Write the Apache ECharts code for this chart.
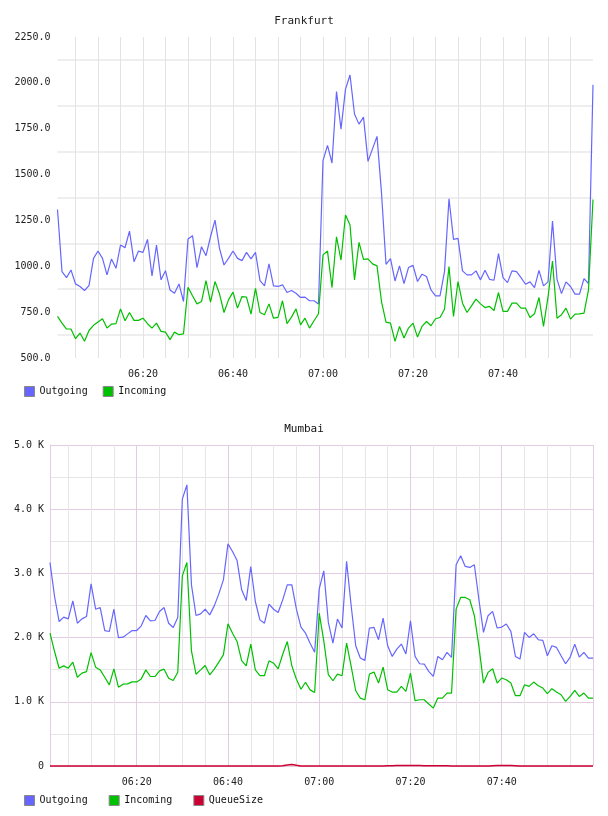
<!DOCTYPE html>
<html>
<head>
<meta charset="utf-8">
<script src="https://cdn.jsdelivr.net/npm/echarts@6/dist/echarts.min.js"></script>
<style>
html,body{margin:0;padding:0;background:#fff;}
#c{width:608px;height:816px;}
</style>
</head>
<body>
<div id="c"></div>
<script>
// Time categories: one point per minute, 06:01 .. 08:00
var times = [];
for (var m = 6 * 60 + 1; m <= 8 * 60; m++) {
  var hh = Math.floor(m / 60), mm = m % 60;
  times.push((hh < 10 ? '0' : '') + hh + ':' + (mm < 10 ? '0' : '') + mm);
}

var frankfurtOutgoing = [
  1310, 971, 938, 980, 904, 890, 868, 895, 1043, 1083,
  1043, 953, 1040, 989, 1116, 1101, 1192, 1025, 1083, 1076,
  1147, 947, 1116, 926, 976, 871, 853, 904, 808, 1149,
  1167, 993, 1107, 1058, 1161, 1252, 1098, 1007, 1043, 1083,
  1043, 1031, 1076, 1040, 1076, 922, 893, 1013, 893, 890,
  899, 857, 868, 853, 830, 832, 812, 812, 795, 1576,
  1659, 1563, 1953, 1748, 1966, 2043, 1830, 1775, 1813, 1572,
  1640, 1708, 1400, 1011, 1042, 920, 1002, 906, 993, 1005,
  917, 957, 944, 871, 839, 839, 971, 1368, 1147, 1152,
  975, 953, 953, 975, 926, 978, 929, 924, 1069, 938,
  911, 975, 971, 938, 902, 915, 884, 978, 893, 915,
  1246, 929, 851, 915, 890, 848, 848, 933, 906, 1989
];
var frankfurtIncoming = [
  727, 690, 658, 658, 605, 636, 591, 650, 678, 696,
  714, 663, 685, 687, 768, 703, 748, 705, 705, 717,
  687, 663, 690, 645, 641, 600, 641, 627, 632, 886,
  839, 795, 808, 922, 804, 917, 850, 748, 817, 859,
  772, 835, 832, 739, 880, 748, 736, 795, 717, 721,
  812, 687, 723, 768, 681, 717, 663, 703, 741, 1062,
  1083, 884, 1161, 1034, 1279, 1225, 926, 1130, 1038, 1040,
  1013, 1002, 808, 696, 690, 591, 672, 609, 663, 690,
  614, 672, 699, 676, 714, 721, 766, 998, 726, 917,
  799, 748, 784, 821, 795, 775, 781, 759, 857, 754,
  754, 799, 799, 772, 772, 721, 741, 830, 672, 832,
  1029, 717, 736, 772, 712, 739, 741, 745, 871, 1364
];
var mumbaiOutgoing = [
  3169, 2640, 2250, 2318, 2292, 2572, 2224, 2292, 2328, 2837,
  2442, 2468, 2110, 2095, 2442, 2001, 2006, 2058, 2110, 2110,
  2183, 2344, 2261, 2266, 2406, 2468, 2224, 2157, 2313, 4156,
  4379, 2821, 2344, 2370, 2442, 2354, 2494, 2681, 2899, 3460,
  3341, 3200, 2744, 2577, 3107, 2562, 2276, 2224, 2520, 2442,
  2390, 2588, 2821, 2821, 2442, 2162, 2069, 1913, 1773, 2760,
  3040, 2237, 1915, 2289, 2149, 3187, 2496, 1873, 1681, 1645,
  2149, 2159, 1967, 2304, 1873, 1707, 1821, 1899, 1744, 2263,
  1707, 1593, 1588, 1474, 1396, 1707, 1655, 1770, 1692, 3135,
  3275, 3109, 3093, 3135, 2590, 2081, 2341, 2408, 2149, 2164,
  2211, 2097, 1707, 1666, 2081, 2003, 2060, 1967, 1956, 1718,
  1873, 1847, 1718, 1593, 1697, 1899, 1697, 1770, 1681, 1681
];
var mumbaiIncoming = [
  2069, 1783, 1523, 1560, 1523, 1617, 1383, 1446, 1471, 1767,
  1539, 1497, 1383, 1264, 1513, 1227, 1274, 1279, 1310, 1310,
  1357, 1497, 1394, 1394, 1482, 1508, 1368, 1331, 1461, 2962,
  3169, 1793, 1430, 1497, 1565, 1420, 1508, 1617, 1731, 2214,
  2069, 1939, 1643, 1560, 1897, 1497, 1409, 1409, 1638, 1601,
  1513, 1741, 1939, 1560, 1352, 1196, 1305, 1186, 1144, 2380,
  1950, 1422, 1328, 1432, 1406, 1915, 1551, 1172, 1058, 1032,
  1432, 1463, 1292, 1541, 1188, 1152, 1152, 1240, 1162, 1448,
  1017, 1032, 1032, 965, 902, 1058, 1058, 1136, 1136, 2444,
  2626, 2626, 2590, 2341, 1863, 1292, 1458, 1515, 1292, 1370,
  1344, 1292, 1095, 1095, 1266, 1240, 1307, 1250, 1214, 1126,
  1204, 1152, 1110, 1006, 1084, 1178, 1084, 1136, 1058, 1058
];
var mumbaiQueueSize = [
  0, 0, 0, 0, 0, 0, 0, 0, 0, 0,
  0, 0, 0, 0, 0, 0, 0, 0, 0, 0,
  0, 0, 0, 0, 0, 0, 0, 0, 0, 0,
  0, 0, 0, 0, 0, 0, 0, 0, 0, 0,
  0, 0, 0, 0, 0, 0, 0, 0, 0, 0,
  0, 5, 15, 25, 10, 0, 0, 0, 0, 0,
  0, 0, 0, 0, 0, 0, 0, 0, 0, 0,
  0, 0, 0, 0, 3, 5, 6, 6, 6, 6,
  6, 6, 5, 5, 5, 5, 4, 3, 0, 0,
  0, 0, 0, 0, 0, 0, 0, 4, 7, 8,
  8, 6, 3, 0, 0, 0, 0, 0, 0, 0,
  0, 0, 0, 0, 0, 0, 0, 0, 0, 0
];

var yTicksFrankfurt = { min: 500, max: 2250, step: 250 };
var yTicksMumbai = { min: 0, max: 5000, step: 1000 };

var COL_OUT = '#6666ff', COL_IN = '#00c000', COL_Q = '#cc0033';
var MONO = '"DejaVu Sans Mono", monospace';
var PINK = '#e2cce2', GRAY = '#e6e6e6';

function minuteOf(v) { return parseInt(v.slice(3), 10); }
function is20(idx, v) { return minuteOf(v) % 20 === 0; }

var chart = echarts.init(document.getElementById('c'), null, { renderer: 'canvas' });

var option = {
  animation: false,
  backgroundColor: '#ffffff',
  title: [
    { text: 'Frankfurt', left: 'center', top: 11,
      textStyle: { fontFamily: MONO, fontSize: 11, fontWeight: 'normal', color: '#222' } },
    { text: 'Mumbai', left: 'center', top: 419,
      textStyle: { fontFamily: MONO, fontSize: 11, fontWeight: 'normal', color: '#111' } }
  ],
  legend: [
    { data: ['Outgoing', 'Incoming'], left: 24, top: 386, icon: 'rect', padding: 0,
      itemWidth: 10, itemHeight: 10, itemGap: 15, selectedMode: false,
      itemStyle: { borderColor: '#888', borderWidth: 1 },
      textStyle: { fontFamily: MONO, fontSize: 10, color: '#111' } },
    { data: ['Outgoing', 'Incoming', 'QueueSize'], left: 24, top: 795, icon: 'rect', padding: 0,
      itemWidth: 10, itemHeight: 10, itemGap: 21, selectedMode: false,
      itemStyle: { borderColor: '#888', borderWidth: 1 },
      textStyle: { fontFamily: MONO, fontSize: 10, color: '#111' } }
  ],
  grid: [
    { left: 57.5, top: 37, width: 535.5, height: 321, containLabel: false },
    { left: 50, top: 445, width: 543, height: 321, containLabel: false }
  ],
  xAxis: [
    { type: 'category', gridIndex: 0, data: times, boundaryGap: false,
      axisLine: { show: false }, axisTick: { show: false },
      axisLabel: { interval: function (i, v) { return is20(i, v) && i !== times.length - 1; },
        fontFamily: MONO, fontSize: 10, color: '#222', margin: 11 },
      splitLine: { show: true, interval: function (i, v) { return minuteOf(v) % 5 === 0 && i !== times.length - 1; },
        lineStyle: { color: '#e3e3e3', width: 1 } } },
    { type: 'category', gridIndex: 1, data: times, boundaryGap: false,
      axisLine: { show: false }, axisTick: { show: false },
      axisLabel: { interval: function (i, v) { return is20(i, v) && i !== times.length - 1; },
        fontFamily: MONO, fontSize: 10, color: '#222', margin: 11 },
      splitLine: { show: true, interval: function (i, v) { return minuteOf(v) % 5 === 0 && !is20(i, v); },
        lineStyle: { color: GRAY, width: 1 } } },
    { type: 'category', gridIndex: 1, data: times, boundaryGap: false,
      axisLine: { show: false }, axisTick: { show: false }, axisLabel: { show: false },
      splitLine: { show: true, interval: function (i, v) { return is20(i, v); },
        lineStyle: { color: PINK, width: 1 } } }
  ],
  yAxis: [
    { type: 'value', gridIndex: 0, min: yTicksFrankfurt.min, max: yTicksFrankfurt.max,
      interval: yTicksFrankfurt.step,
      axisLine: { show: false }, axisTick: { show: false },
      axisLabel: { formatter: function (v) { return v.toFixed(1); },
        fontFamily: MONO, fontSize: 10, color: '#222', margin: 7 },
      splitLine: { show: false },
      minorTick: { show: false, splitNumber: 2 },
      minorSplitLine: { show: true, lineStyle: { color: '#eeeeee', width: 2 } } },
    { type: 'value', gridIndex: 1, min: yTicksMumbai.min, max: yTicksMumbai.max,
      interval: yTicksMumbai.step,
      axisLine: { show: true, lineStyle: { color: PINK, width: 1 } }, axisTick: { show: false },
      axisLabel: { formatter: function (v) { return v === 0 ? '0' : (v / 1000).toFixed(1) + ' K'; },
        fontFamily: MONO, fontSize: 10, color: '#222', margin: 6 },
      splitLine: { show: true, lineStyle: { color: PINK, width: 1 } },
      minorTick: { show: false, splitNumber: 2 },
      minorSplitLine: { show: true, lineStyle: { color: GRAY, width: 1 } } }
  ],
  series: [
    { name: 'Outgoing', type: 'line', xAxisIndex: 0, yAxisIndex: 0, data: frankfurtOutgoing,
      showSymbol: false, symbol: 'none', itemStyle: { color: COL_OUT }, lineStyle: { color: COL_OUT, width: 1.2 } },
    { name: 'Incoming', type: 'line', xAxisIndex: 0, yAxisIndex: 0, data: frankfurtIncoming,
      showSymbol: false, symbol: 'none', itemStyle: { color: COL_IN }, lineStyle: { color: COL_IN, width: 1.2 } },
    { name: 'Outgoing', type: 'line', xAxisIndex: 1, yAxisIndex: 1, data: mumbaiOutgoing,
      showSymbol: false, symbol: 'none', itemStyle: { color: COL_OUT }, lineStyle: { color: COL_OUT, width: 1.2 } },
    { name: 'Incoming', type: 'line', xAxisIndex: 1, yAxisIndex: 1, data: mumbaiIncoming,
      showSymbol: false, symbol: 'none', itemStyle: { color: COL_IN }, lineStyle: { color: COL_IN, width: 1.2 } },
    { name: 'QueueSize', type: 'line', xAxisIndex: 1, yAxisIndex: 1, data: mumbaiQueueSize, clip: false,
      showSymbol: false, symbol: 'none', itemStyle: { color: COL_Q }, lineStyle: { color: COL_Q, width: 1.5 } }
  ]
};
chart.setOption(option);
</script>
</body>
</html>
